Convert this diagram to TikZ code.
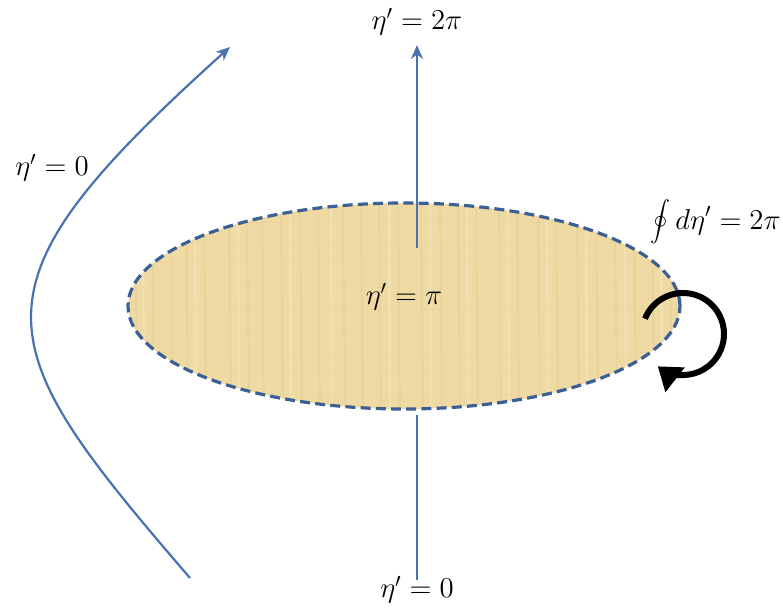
\documentclass[tikz,border=0pt]{standalone}
\usetikzlibrary{arrows.meta}
\definecolor{lineblue}{RGB}{74,114,176}
\definecolor{dashblue}{RGB}{58,96,150}
\definecolor{papyrus}{RGB}{239,218,164}
\definecolor{fibre}{RGB}{220,192,128}
\begin{document}
\begin{tikzpicture}[x=0.5pt,y=-0.5pt,>={Stealth[length=7pt,width=6pt]},
  font=\fontsize{14}{16}\selectfont]
  \useasboundingbox (0,0) rectangle (783,608);
  % the patch
  \coordinate (E) at (404,306);
  \fill[papyrus] (E) ellipse[x radius=138pt,y radius=51.5pt];
  \begin{scope}
    \clip (E) ellipse[x radius=138pt,y radius=51.5pt];
    \foreach \x in {135,152,171,186,204,229,247,262,281,300,318,343,361,379,
                    398,421,440,458,476,499,517,538,556,577,596,615,634,652,670}
      \draw[fibre,opacity=0.25,line width=0.8pt] (\x,200)--(\x+2,412);
    \foreach \x in {143,195,238,290,331,389,430,467,508,547,586,625,661}
      \draw[white,opacity=0.18,line width=1.2pt] (\x,200)--(\x+1,412);
    \foreach \y in {222,241,262,287,309,331,352,374,394}
      \draw[fibre,opacity=0.12,line width=0.5pt] (128,\y)--(680,\y+1);
  \end{scope}
  \draw[dashblue,line width=1.6pt,dash pattern=on 5pt off 2.6pt]
    (E) ellipse[x radius=138pt,y radius=51.5pt];
  % vertical line
  \coordinate (P) at (417,248);
  \coordinate (T) at (417,45);
  \coordinate (Q) at (417,415);
  \coordinate (B) at (417,580);
  \draw[lineblue,line width=1.1pt,->] (P)--(T);
  \draw[lineblue,line width=1.1pt] (Q)--(B);
  % curve to the left
  \coordinate (L0) at (190,578);
  \coordinate (L1) at (230,47);
  \draw[lineblue,line width=1.1pt,->] (L0) .. controls (-15,340) and (-40,290) .. (L1);
  % loop arrow
  \coordinate (C) at (683,334);
  \draw[line width=3pt,-{Triangle[length=11pt,width=15pt]}]
    ([shift={(158:20.5pt)}]C) arc[start angle=158,end angle=-128,radius=20.5pt];
  % labels
  \node (top) at (417,22) {$\eta' = 2\pi$};
  \node (bot) at (417,590) {$\eta' = 0$};
  \node (left) at (52,168) {$\eta' = 0$};
  \node (mid) at (404,297) {$\eta' = \pi$};
  \node[anchor=east,inner sep=1pt] (loop) at (783,222) {$\displaystyle\oint d\eta' = 2\pi$};
\end{tikzpicture}
\end{document}
